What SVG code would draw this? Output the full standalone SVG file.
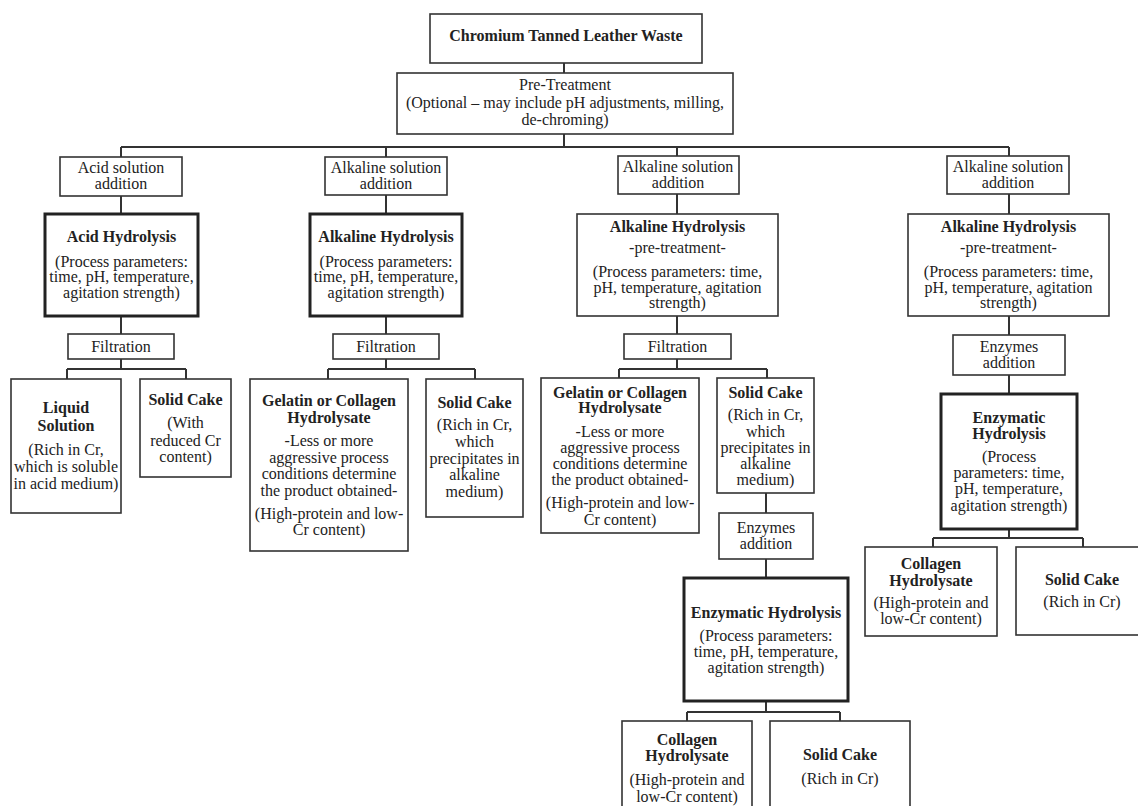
<svg xmlns="http://www.w3.org/2000/svg" width="1138" height="806" viewBox="0 0 1138 806">
<style>
.bx{fill:#fff;stroke:#333;stroke-width:1.6}
.tk{fill:#fff;stroke:#222;stroke-width:3}
.cn{fill:none;stroke:#333;stroke-width:2}
text{font-family:"Liberation Serif","Times New Roman",serif;font-size:16px;fill:#222;text-anchor:middle}
.b{font-weight:bold}
</style>
<rect width="1138" height="806" fill="#fff"/>
<g id="connectors">
<path class="cn" d="M564 63V73M564 134V147M121 147H1009M121 147V157M386 147V157M677 147V156M1009 147V156"/>
<path class="cn" d="M121 196V214M121 316V334M121 359V369M67 369H186M67 369V379M186 369V379"/>
<path class="cn" d="M386 195V214M386 316V334M386 359V369M328 369H475M328 369V379M475 369V379"/>
<path class="cn" d="M677 194V214M677 316V334M677 359V369M619 369H767M619 369V378M767 369V378M766 493V513M766 559V578M766 701V712M687 712H840M687 712V721M840 712V721"/>
<path class="cn" d="M1009 194V214M1009 316V335M1009 375V394M1009 529V538M933 538H1083M933 538V547M1083 538V547"/>
</g>
<g id="n-waste"><rect class="bx" x="430" y="14" width="272" height="49"/><text class="b" x="566" y="41">Chromium Tanned Leather Waste</text></g>
<g id="n-pretreat"><rect class="bx" x="397" y="73" width="336" height="61"/><text x="565" y="90">Pre-Treatment</text><text x="565" y="108">(Optional – may include pH adjustments, milling,</text><text x="565" y="125">de-chroming)</text></g>

<g id="n-acid-add"><rect class="bx" x="60" y="157" width="122" height="39"/><text x="121" y="173">Acid solution</text><text x="121" y="189">addition</text></g>
<g id="n-acid-hyd"><rect class="tk" x="45" y="214" width="153" height="102"/><text class="b" x="121.5" y="242">Acid Hydrolysis</text><text x="121.5" y="267">(Process parameters:</text><text x="121.5" y="282">time, pH, temperature,</text><text x="121.5" y="298">agitation strength)</text></g>
<g id="n-filt1"><rect class="bx" x="68" y="334" width="106" height="25"/><text x="121" y="352">Filtration</text></g>
<g id="n-liquid"><rect class="bx" x="11" y="379" width="110" height="134"/><text class="b" x="66" y="413">Liquid</text><text class="b" x="66" y="431">Solution</text><text x="66" y="455">(Rich in Cr,</text><text x="66" y="472">which is soluble</text><text x="66" y="489">in acid medium)</text></g>
<g id="n-cake1"><rect class="bx" x="140" y="379" width="91" height="98"/><text class="b" x="185.5" y="405">Solid Cake</text><text x="185.5" y="428">(With</text><text x="185.5" y="446">reduced Cr</text><text x="185.5" y="462">content)</text></g>

<g id="n-alk-add2"><rect class="bx" x="325" y="157" width="122" height="38"/><text x="386" y="173">Alkaline solution</text><text x="386" y="189">addition</text></g>
<g id="n-alk-hyd2"><rect class="tk" x="310" y="214" width="152" height="102"/><text class="b" x="386" y="242">Alkaline Hydrolysis</text><text x="386" y="267">(Process parameters:</text><text x="386" y="282">time, pH, temperature,</text><text x="386" y="298">agitation strength)</text></g>
<g id="n-filt2"><rect class="bx" x="333" y="334" width="106" height="25"/><text x="386" y="352">Filtration</text></g>
<g id="n-gel2"><rect class="bx" x="250" y="379" width="158" height="172"/><text class="b" x="329" y="406">Gelatin or Collagen</text><text class="b" x="329" y="423">Hydrolysate</text><text x="329" y="446">-Less or more</text><text x="329" y="463">aggressive process</text><text x="329" y="479">conditions determine</text><text x="329" y="496">the product obtained-</text><text x="329" y="519">(High-protein and low-</text><text x="329" y="535">Cr content)</text></g>
<g id="n-cake2"><rect class="bx" x="426" y="379" width="97" height="138"/><text class="b" x="474.5" y="408">Solid Cake</text><text x="474.5" y="430">(Rich in Cr,</text><text x="474.5" y="447">which</text><text x="474.5" y="464">precipitates in</text><text x="474.5" y="480">alkaline</text><text x="474.5" y="497">medium)</text></g>

<g id="n-alk-add3"><rect class="bx" x="618" y="156" width="121" height="38"/><text x="678" y="172">Alkaline solution</text><text x="678" y="188">addition</text></g>
<g id="n-alk-hyd3"><rect class="bx" x="577" y="214" width="201" height="102"/><text class="b" x="677.5" y="232">Alkaline Hydrolysis</text><text x="677.5" y="253">-pre-treatment-</text><text x="677.5" y="277">(Process parameters: time,</text><text x="677.5" y="293">pH, temperature, agitation</text><text x="677.5" y="308">strength)</text></g>
<g id="n-filt3"><rect class="bx" x="624" y="334" width="107" height="25"/><text x="677.5" y="352">Filtration</text></g>
<g id="n-gel3"><rect class="bx" x="541" y="378" width="158" height="155"/><text class="b" x="620" y="398">Gelatin or Collagen</text><text class="b" x="620" y="413">Hydrolysate</text><text x="620" y="437">-Less or more</text><text x="620" y="453">aggressive process</text><text x="620" y="469">conditions determine</text><text x="620" y="485">the product obtained-</text><text x="620" y="508">(High-protein and low-</text><text x="620" y="525">Cr content)</text></g>
<g id="n-cake3"><rect class="bx" x="717" y="378" width="97" height="115"/><text class="b" x="765.5" y="398">Solid Cake</text><text x="765.5" y="420">(Rich in Cr,</text><text x="765.5" y="437">which</text><text x="765.5" y="453">precipitates in</text><text x="765.5" y="469">alkaline</text><text x="765.5" y="485">medium)</text></g>
<g id="n-enz-add3"><rect class="bx" x="719" y="513" width="94" height="46"/><text x="766" y="533">Enzymes</text><text x="766" y="549">addition</text></g>
<g id="n-enz-hyd3"><rect class="tk" x="684" y="578" width="164" height="123"/><text class="b" x="766" y="618">Enzymatic Hydrolysis</text><text x="766" y="641">(Process parameters:</text><text x="766" y="657">time, pH, temperature,</text><text x="766" y="673">agitation strength)</text></g>
<g id="n-coll3"><rect class="bx" x="622" y="721" width="130" height="95"/><text class="b" x="687" y="745">Collagen</text><text class="b" x="687" y="761">Hydrolysate</text><text x="687" y="785">(High-protein and</text><text x="687" y="802">low-Cr content)</text></g>
<g id="n-cake3b"><rect class="bx" x="770" y="721" width="140" height="95"/><text class="b" x="840" y="760">Solid Cake</text><text x="840" y="784">(Rich in Cr)</text></g>

<g id="n-alk-add4"><rect class="bx" x="947" y="156" width="122" height="38"/><text x="1008" y="172">Alkaline solution</text><text x="1008" y="188">addition</text></g>
<g id="n-alk-hyd4"><rect class="bx" x="908" y="214" width="201" height="102"/><text class="b" x="1008.5" y="232">Alkaline Hydrolysis</text><text x="1008.5" y="253">-pre-treatment-</text><text x="1008.5" y="277">(Process parameters: time,</text><text x="1008.5" y="293">pH, temperature, agitation</text><text x="1008.5" y="308">strength)</text></g>
<g id="n-enz-add4"><rect class="bx" x="953" y="335" width="112" height="40"/><text x="1009" y="352">Enzymes</text><text x="1009" y="368">addition</text></g>
<g id="n-enz-hyd4"><rect class="tk" x="941" y="394" width="136" height="135"/><text class="b" x="1009" y="423">Enzymatic</text><text class="b" x="1009" y="439">Hydrolysis</text><text x="1009" y="462">(Process</text><text x="1009" y="478">parameters: time,</text><text x="1009" y="494">pH, temperature,</text><text x="1009" y="511">agitation strength)</text></g>
<g id="n-coll4"><rect class="bx" x="865" y="547" width="132" height="89"/><text class="b" x="931" y="569">Collagen</text><text class="b" x="931" y="586">Hydrolysate</text><text x="931" y="608">(High-protein and</text><text x="931" y="624">low-Cr content)</text></g>
<g id="n-cake4"><rect class="bx" x="1016" y="547" width="132" height="88"/><text class="b" x="1082" y="585">Solid Cake</text><text x="1082" y="607">(Rich in Cr)</text></g>
</svg>
